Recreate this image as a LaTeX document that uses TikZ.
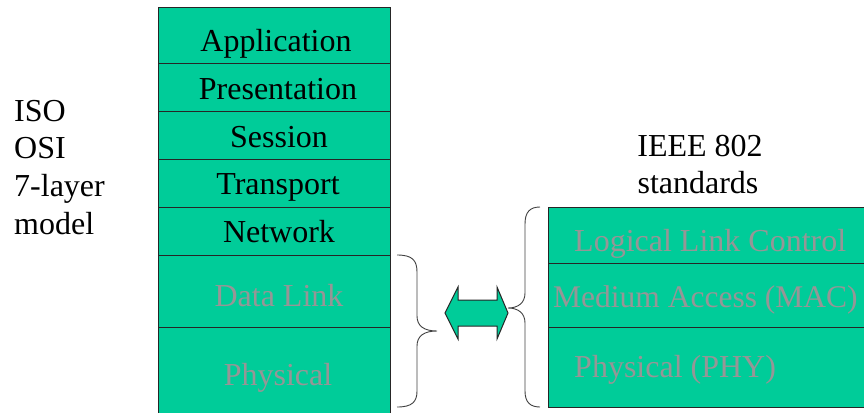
\documentclass[tikz,border=0pt]{standalone}
\usepackage{fontspec}
\setmainfont{Liberation Serif}
\definecolor{osigreen}{HTML}{00CC99}
\definecolor{dimtext}{HTML}{969696}
\tikzset{
  layer/.style={fill=osigreen,draw=black!85,line width=0.8pt},
  lbl/.style={font=\fontsize{32}{37.7}\selectfont,inner sep=0pt,anchor=base},
  faded/.style={lbl,text=dimtext},
  brace/.style={draw=black!75,line width=0.9pt}
}
\begin{document}
\begin{tikzpicture}[x=1pt,y=-1pt]
        \clip (0,0) rectangle (864,412);

        % ISO stack
        \foreach \top/\bot in {7/63,63/111,111/159,159/207,207/255,255/327,327/416}
            \path[layer] (158,\top) rectangle (390,\bot);
        \node[lbl] (app) at (276,52) {Application};
        \node[lbl] (pres) at (278,99) {Presentation};
        \node[lbl] (sess) at (279,147) {Session};
        \node[lbl] (trans) at (278,194) {Transport};
        \node[lbl] (net) at (279,242) {Network};
        \node[faded] (dlink) at (279,306) {Data Link};
        \node[faded] (phys) at (278,385) {Physical};

        \foreach \w [count=\i] in {ISO,OSI,7-layer,model}
            \node[lbl,anchor=base west] (iso\i) at (14,121+37.7*\i-37.7) {\w};

        % IEEE 802 stack
        \node[lbl] (ieee) at (700,156) {IEEE 802};
        \node[lbl] (std) at (698,193) {standards};
        \path[layer] (548,207) rectangle (872,263);
        \path[layer] (548,263) rectangle (872,327);
        \path[layer] (548,327) rectangle (872,407);
        \node[faded,anchor=base west] (llc) at (574,251) {Logical Link Control};
        \node[faded,anchor=base west,font=\fontsize{31.5}{37.7}\selectfont] (mac) at (553,307) {Medium Access (MAC)};
        \node[faded,anchor=base west] (phy) at (574,377) {Physical (PHY)};

        % braces
        \draw[brace] (397,255) .. controls (412,255) and (417,260) .. (417,272)
            -- (417,316) .. controls (417,326) and (424,331) .. (437,331)
            .. controls (424,331) and (417,336) .. (417,346)
            -- (417,391) .. controls (417,402) and (412,407) .. (397,407);
        \draw[brace] (540,207) .. controls (530,207) and (525,212) .. (525,224)
            -- (525,293) .. controls (525,303) and (518,308) .. (508,308)
            .. controls (518,308) and (525,313) .. (525,323)
            -- (525,391) .. controls (525,402) and (530,407) .. (540,407);

        % double arrow
        \path[layer,line width=1pt] (445,313) -- (458,287) -- (458,300) -- (497,300) -- (497,287)
            -- (508,313) -- (497,339) -- (497,326) -- (458,326) -- (458,339) -- cycle;
\end{tikzpicture}
\end{document}
